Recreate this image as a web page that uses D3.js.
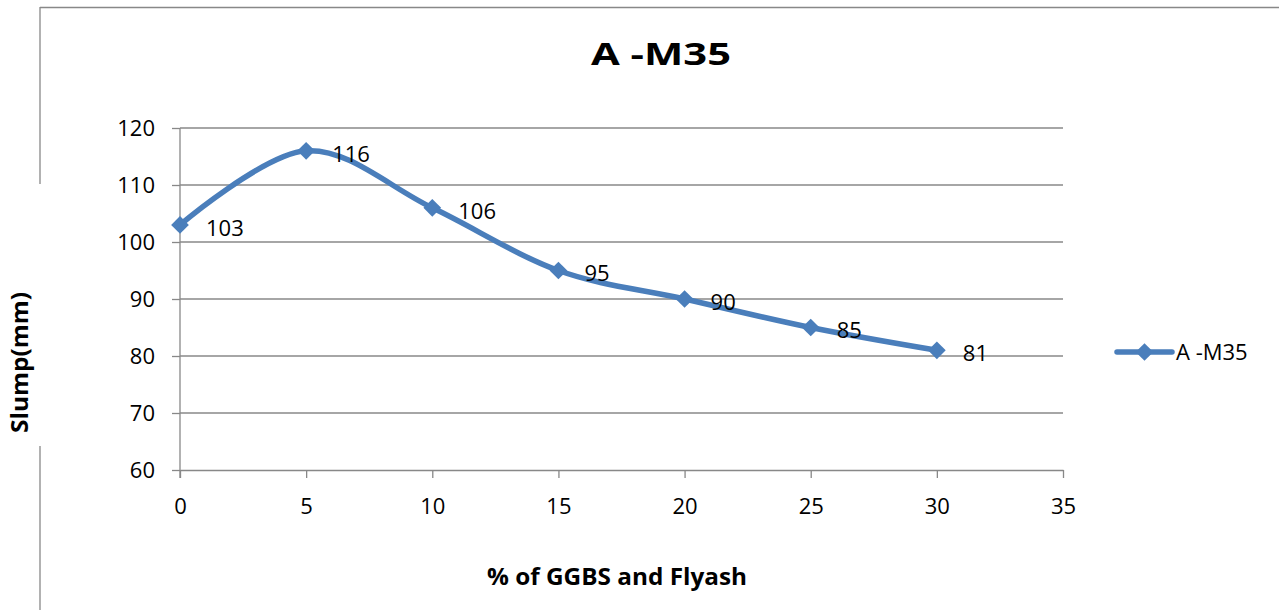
<!DOCTYPE html>
<html><head><meta charset="utf-8">
<script src="https://cdn.jsdelivr.net/npm/d3@7"></script>
<style>
html,body{margin:0;padding:0;background:#fff;}
svg{display:block;}
text{font-family:"Open Sans",sans-serif;fill:#000;}
</style></head>
<body>
<svg id="chart" width="1279" height="610"></svg>
<script>
const xValues = [0, 5, 10, 15, 20, 25, 30];
const slump = [103, 116, 106, 95, 90, 85, 81];
const xTicks = [0, 5, 10, 15, 20, 25, 30, 35];
const yTicks = [60, 70, 80, 90, 100, 110, 120];
const seriesName = "A -M35";
const chartTitle = "A -M35";
const xTitle = "% of GGBS and Flyash";
const yTitle = "Slump(mm)";

(function () {
const svg = d3.select("#chart");
const W = 1279, H = 610;
const pLeft = 180, pRight = 1063, pTop = 128, pBottom = 470;
const x = d3.scaleLinear().domain([0, 35]).range([pLeft, pRight]);
const y = d3.scaleLinear().domain([60, 120]).range([pBottom, pTop]);
const grey = "#888888";
const blue = "#4a7ebb";

// outer frame (partially visible)
svg.append("line").attr("x1", 40).attr("x2", W).attr("y1", 7.5).attr("y2", 7.5).attr("stroke", grey).attr("stroke-width", 1.3);
svg.append("line").attr("x1", 40).attr("x2", 40).attr("y1", 7).attr("y2", 184).attr("stroke", grey).attr("stroke-width", 1.3);
svg.append("line").attr("x1", 40).attr("x2", 40).attr("y1", 446).attr("y2", H).attr("stroke", grey).attr("stroke-width", 1.3);

// gridlines
svg.append("g").selectAll("line").data(yTicks.filter(d => d !== 60)).join("line")
  .attr("x1", pLeft).attr("x2", pRight).attr("y1", d => y(d)).attr("y2", d => y(d))
  .attr("stroke", grey).attr("stroke-width", 1.3);

// y axis
const yAxis = svg.append("g").attr("transform", `translate(${pLeft},0)`)
  .call(d3.axisLeft(y).tickValues(yTicks).tickSize(8).tickPadding(17).tickSizeOuter(0));
yAxis.select(".domain").attr("stroke", grey).attr("stroke-width", 1.3).attr("d", `M0,${pTop}V${pBottom + 8}`);
yAxis.selectAll(".tick line").attr("stroke", grey).attr("stroke-width", 1.3);
yAxis.selectAll(".tick text").style("font-family", '"Open Sans",sans-serif').style("font-size", "22px").attr("fill", "#000").attr("dy", "0.36em");

// x axis
const xAxis = svg.append("g").attr("transform", `translate(0,${pBottom})`)
  .call(d3.axisBottom(x).tickValues(xTicks).tickSize(8).tickPadding(20).tickSizeOuter(0));
xAxis.select(".domain").attr("stroke", grey).attr("stroke-width", 1.3);
xAxis.selectAll(".tick line").attr("stroke", grey).attr("stroke-width", 1.3);
xAxis.selectAll(".tick text").style("font-family", '"Open Sans",sans-serif').style("font-size", "22px").attr("fill", "#000");

// title
svg.append("text").attr("x", 591).attr("y", 65).attr("text-anchor", "start")
  .attr("textLength", 140).attr("lengthAdjust", "spacingAndGlyphs")
  .style("font-size", "31px").style("font-weight", "bold").text(chartTitle);

// axis titles
svg.append("text").attr("x", 487).attr("y", 585)
  .attr("textLength", 260).attr("lengthAdjust", "spacingAndGlyphs")
  .style("font-size", "24px").style("font-weight", "bold").text(xTitle);
svg.append("text").attr("transform", `translate(28,433) rotate(-90)`)
  .attr("textLength", 141).attr("lengthAdjust", "spacingAndGlyphs")
  .style("font-size", "23px").style("font-weight", "bold").text(yTitle);

// line
const data = xValues.map((v, i) => ({x: v, y: slump[i]}));
const line = d3.line().x(d => x(d.x)).y(d => y(d.y)).curve(d3.curveCatmullRom.alpha(0));
svg.append("path").datum(data).attr("d", line).attr("fill", "none")
  .attr("stroke", blue).attr("stroke-width", 5.5).attr("stroke-linejoin", "round");

const diamond = d3.symbol().type(d3.symbolDiamond2).size(200);
svg.append("g").selectAll("path").data(data).join("path")
  .attr("transform", d => `translate(${x(d.x)},${y(d.y)})`)
  .attr("d", diamond).attr("fill", blue);

// data labels
svg.append("g").selectAll("text").data(data).join("text")
  .attr("x", d => x(d.x) + 26).attr("y", d => y(d.y) + 3)
  .attr("dy", "0.36em").style("font-size", "22px").text(d => d.y);

// legend
const lg = svg.append("g").attr("transform", "translate(1117,352)");
lg.append("line").attr("x1", 0).attr("x2", 55).attr("stroke", blue).attr("stroke-width", 5.5).attr("stroke-linecap", "round");
lg.append("path").attr("transform", "translate(27.5,0)").attr("d", diamond).attr("fill", blue);
lg.append("text").attr("x", 59).attr("y", 0).attr("dy", "0.36em").style("font-size", "22px").text(seriesName);
})();
</script>
</body></html>
